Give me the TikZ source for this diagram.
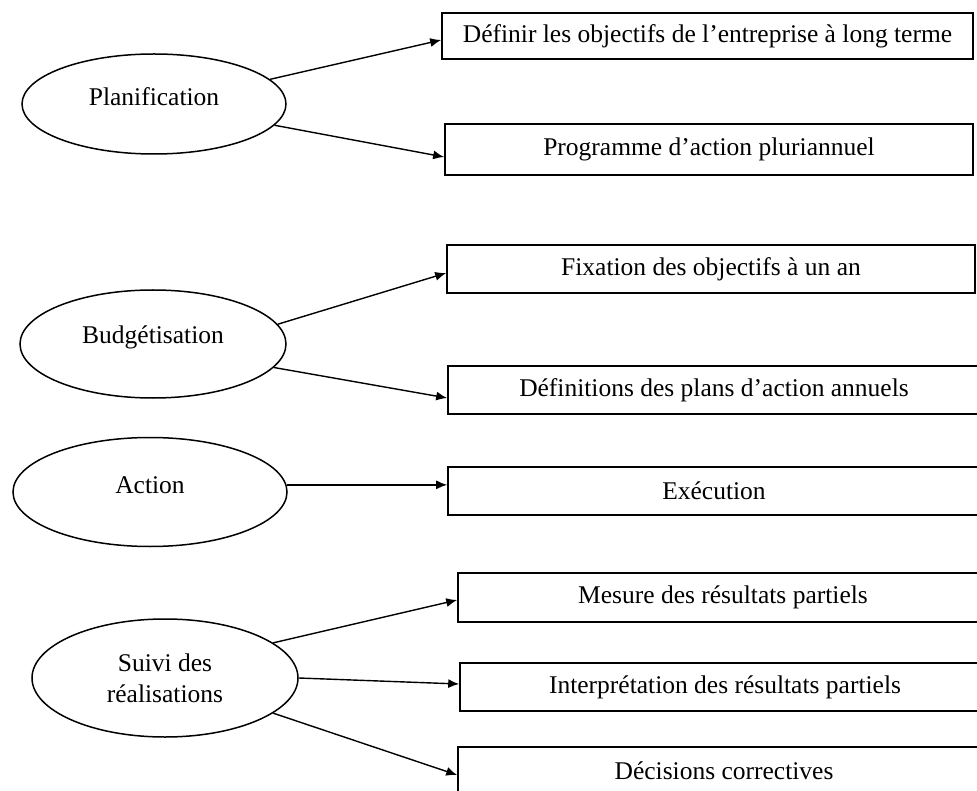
\documentclass[tikz,border=0pt]{standalone}
\usepackage{fontspec}
\setmainfont{Liberation Serif}
\usetikzlibrary{shapes.geometric,arrows.meta}
\begin{document}
\begin{tikzpicture}[x=1pt,y=-1pt,
  phase/.style={ellipse, draw, line width=1.5pt, inner sep=0pt},
  task/.style={rectangle, draw, line width=1.6pt, inner sep=0pt,
               font=\fontsize{25.5}{31}\selectfont},
  lab/.style={font=\fontsize{25.5}{31}\selectfont, align=center},
  link/.style={line width=1.4pt, -{Latex[length=11pt,width=9pt]}}
]
\useasboundingbox (0,0) rectangle (977,791);
\clip (0,0) rectangle (977,791);

% phases of the control cycle
\node[phase, minimum width=264pt, minimum height=100pt,
      label={[lab, yshift=7pt]center:Planification}] (plan) at (154,104) {};
\node[phase, minimum width=266pt, minimum height=108pt,
      label={[lab, yshift=7pt]center:Budgétisation}] (bud) at (153,344) {};
\node[phase, minimum width=274pt, minimum height=109pt,
      label={[lab, yshift=7pt]center:Action}] (act) at (150,492) {};
\node[phase, minimum width=266pt, minimum height=118pt,
      label={[lab]center:Suivi des\\réalisations}] (sui) at (165,678) {};

% tasks attached to each phase
\node[task, minimum width=531pt, minimum height=46pt] (def) at (707.5,36)
  {Définir les objectifs de l’entreprise à long terme};
\node[task, minimum width=528pt, minimum height=51pt] (prog) at (709,149.5)
  {Programme d’action pluriannuel};
\node[task, minimum width=528pt, minimum height=48pt] (fix) at (711,269)
  {Fixation des objectifs à un an};
\node[task, minimum width=532pt, minimum height=48pt] (plans) at (714,390)
  {Définitions des plans d’action annuels};
\node[task, minimum width=532pt, minimum height=48pt] (exe) at (714,491)
  {Exécution};
\node[task, minimum width=530pt, minimum height=49pt] (mes) at (723,597.5)
  {Mesure des résultats partiels};
\node[task, minimum width=530pt, minimum height=48pt] (int) at (725,687)
  {Interprétation des résultats partiels};
\node[task, minimum width=532pt, minimum height=48pt] (dec) at (724,771)
  {Décisions correctives};

% connectors
\draw[link] (plan.12) -- ([yshift=-4pt]def.west);
\draw[link] (plan.-10) -- ([yshift=-7.5pt]prog.west);
\draw[link] (bud.9) -- ([yshift=-4pt]fix.west);
\draw[link] (bud.-11) -- ([yshift=-8pt]plans.west);
\draw[link] (act.3) -- (act.3 -| exe.west);
\draw[link] (sui.18) -- ([yshift=-2.5pt]mes.west);
\draw[link] (sui.east) -- ([yshift=3pt]int.west);
\draw[link] (sui.-18) -- ([yshift=-4pt]dec.west);
\end{tikzpicture}
\end{document}
